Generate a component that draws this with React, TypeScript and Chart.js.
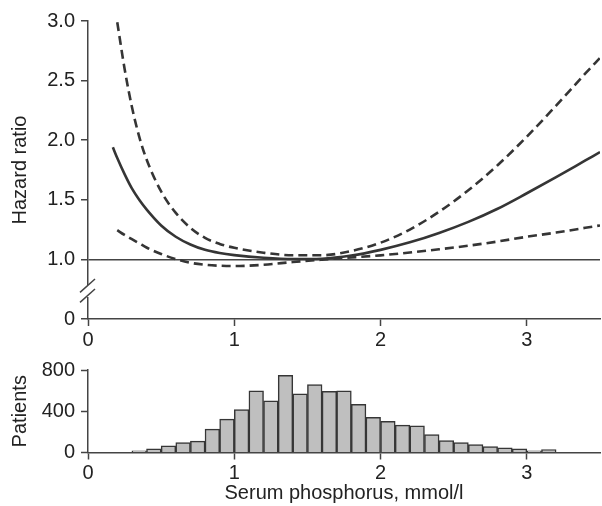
import React, { useEffect, useRef } from 'react';
import { Chart, registerables } from 'chart.js';

Chart.register(...registerables);

// ---- Data ----
const estimateX = [0.17, 0.2, 0.25, 0.3, 0.35, 0.4, 0.5, 0.6, 0.7, 0.8, 0.9, 1.0, 1.2, 1.4, 1.6, 1.8, 2.0, 2.2, 2.4, 2.6, 2.8, 3.0, 3.2, 3.4, 3.5];
const estimateHR = [1.94, 1.85, 1.715, 1.595, 1.5, 1.42, 1.285, 1.19, 1.125, 1.08, 1.053, 1.036, 1.014, 1.003, 1.006, 1.032, 1.08, 1.143, 1.222, 1.315, 1.425, 1.555, 1.69, 1.83, 1.9];

const ciX = [0.2, 0.25, 0.3, 0.35, 0.4, 0.5, 0.6, 0.7, 0.8, 0.9, 1.0, 1.2, 1.4, 1.6, 1.8, 2.0, 2.2, 2.4, 2.6, 2.8, 3.0, 3.2, 3.4, 3.5];
const upperHR = [2.99, 2.6, 2.28, 2.03, 1.84, 1.57, 1.39, 1.265, 1.18, 1.13, 1.097, 1.056, 1.035, 1.035, 1.07, 1.14, 1.25, 1.4, 1.58, 1.79, 2.03, 2.29, 2.56, 2.69];
const lowerHR = [1.245, 1.205, 1.17, 1.135, 1.1, 1.045, 1.003, 0.972, 0.955, 0.947, 0.944, 0.955, 0.978, 0.998, 1.016, 1.034, 1.058, 1.085, 1.115, 1.15, 1.19, 1.225, 1.265, 1.285];

const hazardTickValues = [0.5, 1, 1.5, 2, 2.5, 3];
const hazardTickLabels = ['0', '1.0', '1.5', '2.0', '2.5', '3.0'];
const phosphorusTicks = [0, 1, 2, 3];

const binCenters = [0.35, 0.45, 0.55, 0.65, 0.75, 0.85, 0.95, 1.05, 1.15, 1.25, 1.35, 1.45, 1.55, 1.65, 1.75, 1.85, 1.95, 2.05, 2.15, 2.25, 2.35, 2.45, 2.55, 2.65, 2.75, 2.85, 2.95, 3.05, 3.15];
const patientCounts = [16, 35, 65, 97, 110, 226, 323, 416, 597, 500, 748, 568, 658, 594, 597, 468, 342, 303, 265, 258, 174, 116, 97, 77, 58, 45, 35, 16, 29];
const patientTicks = [0, 400, 800];

// ---- Styles ----
const FONT_FAMILY = "'Liberation Sans', Arial, Helvetica, sans-serif";
const TEXT = '#222222';
const AXIS = '#444444';
const INK = '#353535';
const FONT = { family: FONT_FAMILY, size: 20 };

const axisBreak = {
  id: 'axisBreak',
  afterDraw(chart: any) {
    const { ctx, chartArea } = chart;
    const yS = chart.scales.y;
    const c = yS.getPixelForValue(0.75) + 1.5;
    const x = chartArea.left;
    ctx.save();
    ctx.clearRect(x - 3, c - 6, 6, 12);
    ctx.strokeStyle = AXIS;
    ctx.lineWidth = 1.5;
    for (const off of [-5, 5]) {
      ctx.beginPath();
      ctx.moveTo(x - 8, c + off + 6.7);
      ctx.lineTo(x + 7, c + off - 6.7);
      ctx.stroke();
    }
    ctx.restore();
  },
};

export default function App() {
  const topRef = useRef<HTMLCanvasElement>(null);
  const botRef = useRef<HTMLCanvasElement>(null);

  useEffect(() => {
    const line = (xs: number[], ys: number[], dashed: boolean) => ({
      data: xs.map((x, i) => ({ x, y: ys[i] })),
      showLine: true,
      borderColor: INK,
      borderWidth: 2.6,
      borderDash: dashed ? [9, 5] : [],
      pointRadius: 0,
      cubicInterpolationMode: 'monotone',
      fill: false,
    });

    const top = new Chart(topRef.current as HTMLCanvasElement, {
      type: 'scatter',
      data: {
        datasets: [
          line(ciX, upperHR, true),
          line(ciX, lowerHR, true),
          line(estimateX, estimateHR, false),
        ] as any,
      },
      options: {
        animation: false,
        responsive: false,
        devicePixelRatio: 1,
        layout: { padding: { top: 21, right: 2, left: 0, bottom: 0 } },
        plugins: { legend: { display: false }, tooltip: { enabled: false } },
        scales: {
          x: {
            type: 'linear',
            min: 0,
            max: 3.5,
            afterBuildTicks: (s: any) => {
              s.ticks = phosphorusTicks.map((v) => ({ value: v }));
            },
            afterFit: (s: any) => {
              s.height = 36;
            },
            ticks: { padding: 2, color: TEXT, font: FONT, maxRotation: 0, autoSkip: false, callback: (v: any) => String(v) },
            grid: { drawOnChartArea: false, tickLength: 7, tickColor: AXIS, tickWidth: 1.5 },
            border: { color: AXIS, width: 1.5 },
          },
          y: {
            type: 'linear',
            min: 0.5,
            max: 3,
            afterBuildTicks: (s: any) => {
              s.ticks = hazardTickValues.map((v) => ({ value: v }));
            },
            afterFit: (s: any) => {
              s.width = 88;
            },
            ticks: {
              padding: 6,
              color: TEXT,
              font: FONT,
              autoSkip: false,
              callback: (v: any) => {
                const i = hazardTickValues.indexOf(Number(v));
                return i >= 0 ? hazardTickLabels[i] : '';
              },
            },
            grid: {
              color: (ctx: any) => (ctx.tick && ctx.tick.value === 1 ? AXIS : 'rgba(0,0,0,0)'),
              lineWidth: 1.5,
              tickLength: 7,
              tickColor: AXIS,
              tickWidth: 1.5,
            },
            border: { color: AXIS, width: 1.5 },
            title: { display: true, text: 'Hazard ratio', color: TEXT, font: FONT, padding: { top: 8, bottom: 0 } },
          },
        },
      } as any,
      plugins: [axisBreak],
    });

    const bot = new Chart(botRef.current as HTMLCanvasElement, {
      type: 'bar',
      data: {
        datasets: [
          {
            data: binCenters.map((x, i) => ({ x, y: patientCounts[i] })),
            backgroundColor: '#bfbfbf',
            borderColor: '#363636',
            borderWidth: 1.5,
            barPercentage: 1,
            categoryPercentage: 1,
          },
        ] as any,
      },
      options: {
        animation: false,
        responsive: false,
        devicePixelRatio: 1,
        layout: { padding: { top: 20, right: 2, left: 0, bottom: 0 } },
        plugins: { legend: { display: false }, tooltip: { enabled: false } },
        scales: {
          x: {
            type: 'linear',
            min: 0,
            max: 3.5,
            offset: false,
            afterBuildTicks: (s: any) => {
              s.ticks = phosphorusTicks.map((v) => ({ value: v }));
            },
            afterFit: (s: any) => {
              s.height = 53.5;
            },
            ticks: { padding: 2, color: TEXT, font: FONT, maxRotation: 0, autoSkip: false, callback: (v: any) => String(v) },
            grid: { drawOnChartArea: false, offset: false, tickLength: 7, tickColor: AXIS, tickWidth: 1.5 },
            border: { color: AXIS, width: 1.5 },
            title: { display: true, text: 'Serum phosphorus, mmol/l', color: TEXT, font: FONT, padding: { top: 0, bottom: 1 } },
          },
          y: {
            type: 'linear',
            min: 0,
            max: 800,
            afterBuildTicks: (s: any) => {
              s.ticks = patientTicks.map((v) => ({ value: v }));
            },
            afterFit: (s: any) => {
              s.width = 88;
            },
            ticks: { padding: 6, color: TEXT, font: FONT, autoSkip: false, callback: (v: any) => String(v) },
            grid: { drawOnChartArea: false, tickLength: 7, tickColor: AXIS, tickWidth: 1.5 },
            border: { color: AXIS, width: 1.5 },
            title: { display: true, text: 'Patients', color: TEXT, font: FONT, padding: { top: 8, bottom: 0 } },
          },
        },
      } as any,
    });

    return () => {
      top.destroy();
      bot.destroy();
    };
  }, []);

  return (
    <div style={{ position: 'absolute', left: 0, top: 0, width: 602, height: 506, background: '#ffffff', overflow: 'hidden' }}>
      <canvas ref={topRef} width={602} height={355} style={{ position: 'absolute', left: 0, top: 0, width: 602, height: 355 }} />
      <canvas ref={botRef} width={602} height={156} style={{ position: 'absolute', left: 0, top: 350, width: 602, height: 156 }} />
    </div>
  );
}
